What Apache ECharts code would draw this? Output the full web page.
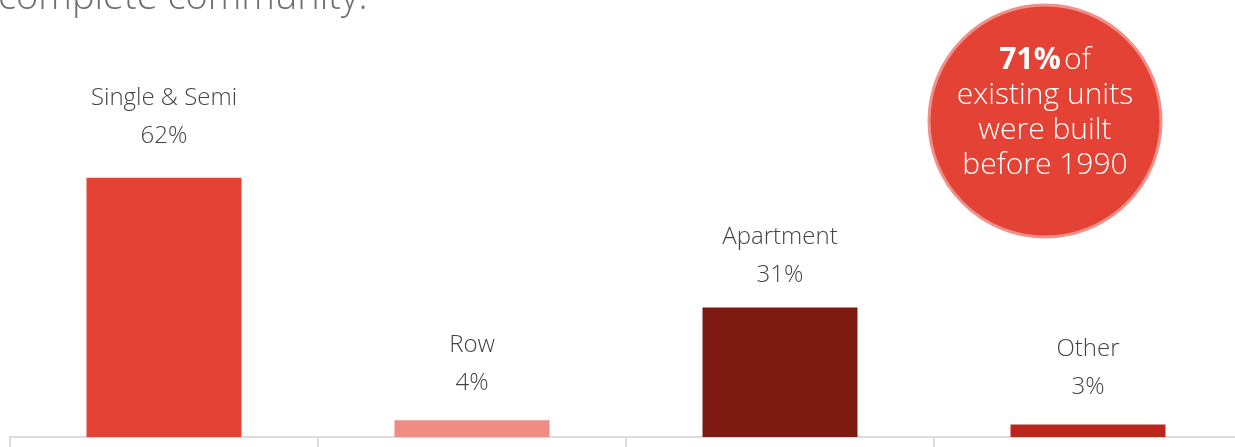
<!DOCTYPE html>
<html>
<head>
<meta charset="utf-8">
<script src="https://cdn.jsdelivr.net/npm/echarts@6/dist/echarts.min.js"></script>
<style>
  html, body { margin: 0; padding: 0; background: #fff; }
  #chart { width: 1235px; height: 447px; }
</style>
</head>
<body>
<div id="chart"></div>
<script>
// dwelling types and their share of units
var categories = ['Single & Semi', 'Row', 'Apartment', 'Other'];
var shares = [62, 4, 31, 3];
var barColors = ['#E34234', '#EF8C84', '#7D1A12', '#BA261C'];
// label gap above each bar (the original is not perfectly even)
var labelGaps = [23, 18, 13, 18];

var myChart = echarts.init(document.getElementById('chart'));

var option = {
    animation: false,
    grid: { left: 10, top: 19, width: 1232, height: 418, outerBoundsMode: 'none' },
    xAxis: {
        type: 'category',
        data: categories,
        axisLine: { lineStyle: { color: '#DCDCDC', width: 2 } },
        axisTick: { show: true, length: 10, lineStyle: { color: '#DCDCDC', width: 2 } },
        axisLabel: { show: false }
    },
    yAxis: {
        type: 'value',
        min: 0,
        max: 100,
        show: false,
        splitLine: { show: false }
    },
    series: [{
        type: 'bar',
        barWidth: 155,
        data: shares.map(function (v, i) {
            return {
                value: v,
                itemStyle: { color: barColors[i] },
                label: { distance: labelGaps[i] }
            };
        }),
        label: {
            show: true,
            position: 'top',
            formatter: function (p) {
                return '{a|' + p.name + '}\n{a|' + p.value + '%}';
            },
            rich: {
                a: {
                    fontFamily: 'Open Sans',
                    fontWeight: 300,
                    fontSize: 24,
                    color: '#444',
                    lineHeight: 38,
                    align: 'center'
                }
            }
        }
    }],
    graphic: [
        {
            type: 'text',
            left: -2,
            top: -21,
            style: {
                text: 'complete community.',
                fontFamily: 'Open Sans',
                fontWeight: 300,
                fontSize: 38,
                fill: '#707070'
            }
        },
        {
            type: 'circle',
            shape: { cx: 1045, cy: 121, r: 116 },
            style: { fill: '#E34234', stroke: '#F0908A', lineWidth: 3 }
        },
        {
            type: 'text',
            x: 1045,
            y: 113,
            style: {
                text: '{b|71%} {r|of}\n{r|existing units}\n{r|were built}\n{r|before 1990}',
                align: 'center',
                verticalAlign: 'middle',
                rich: {
                    b: { fontFamily: 'Open Sans', fontSize: 30, fontWeight: 'bold', fill: '#fff', lineHeight: 35 },
                    r: { fontFamily: 'Open Sans', fontSize: 30, fontWeight: 300, fill: '#fff', lineHeight: 35 }
                }
            }
        }
    ]
};

myChart.setOption(option);
</script>
</body>
</html>
